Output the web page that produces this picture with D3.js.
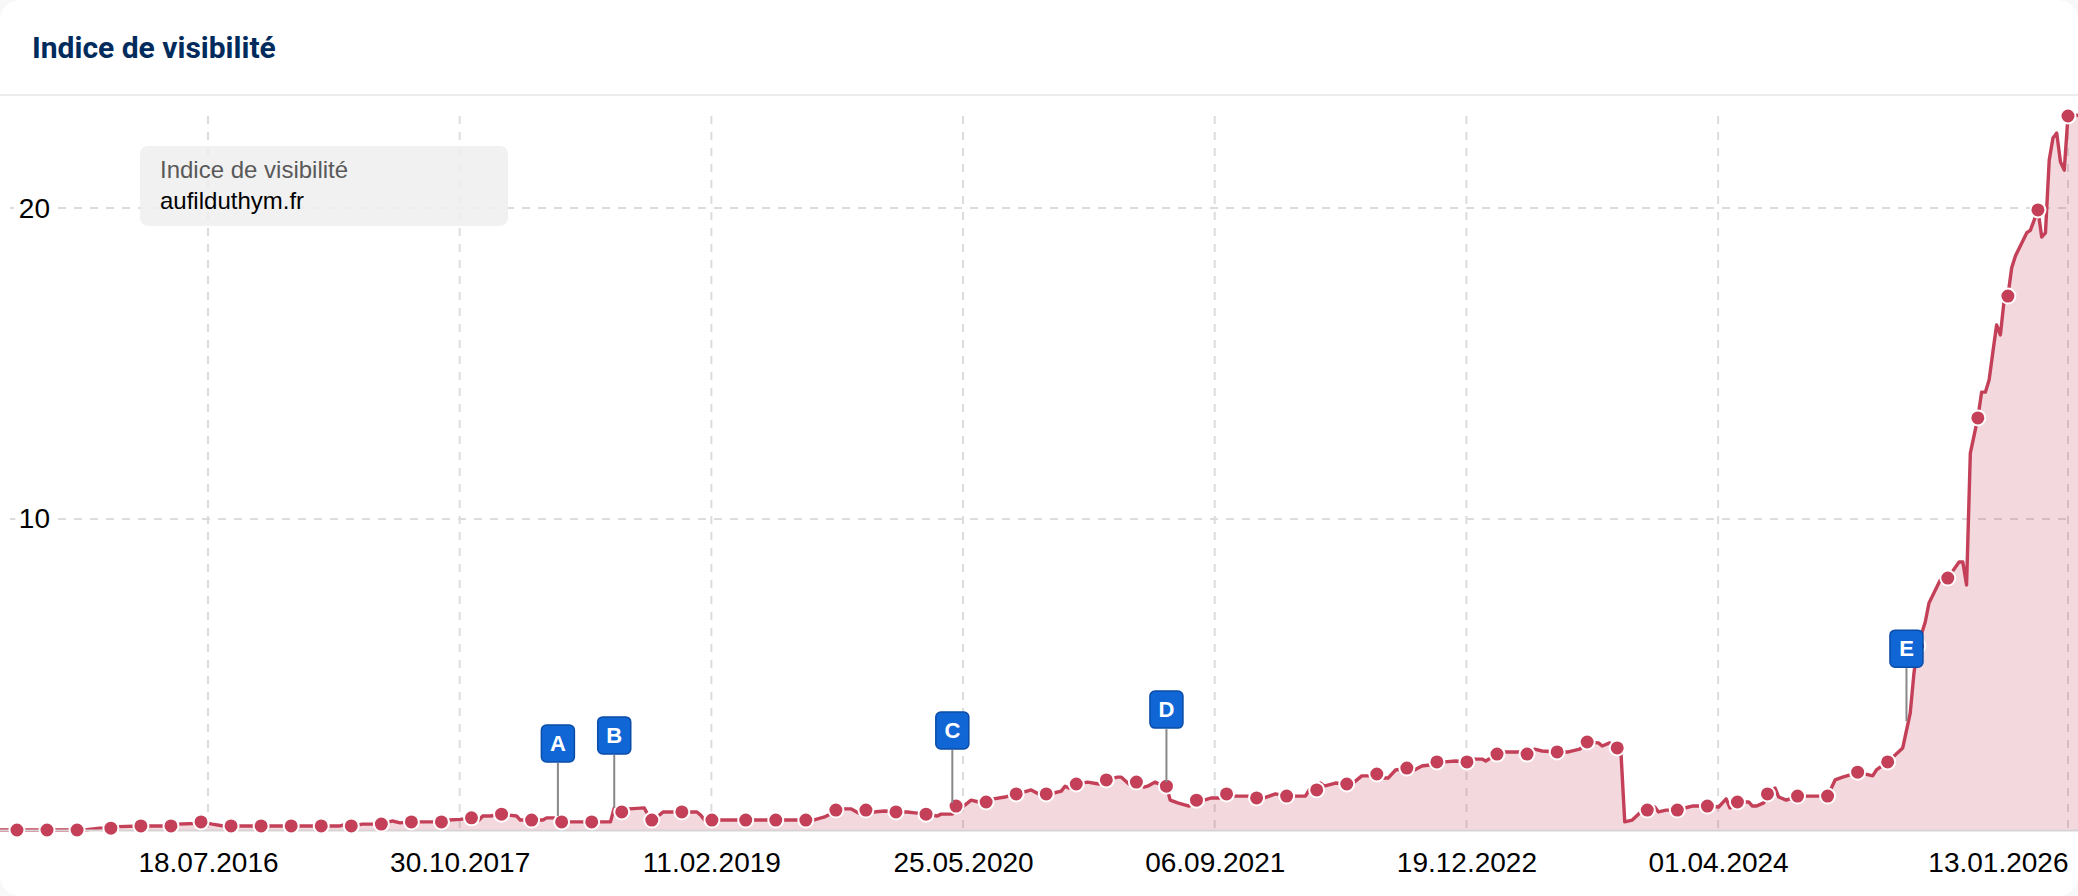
<!DOCTYPE html>
<html lang="fr">
<head>
<meta charset="utf-8">
<title>Indice de visibilité</title>
<script src="https://cdn.jsdelivr.net/npm/d3@7"></script>
<style>
  html, body { margin: 0; padding: 0; background: #f8f8f8; overflow: hidden; }
  #chart { width: 2078px; height: 896px; }
  svg { display: block; }
</style>
</head>
<body>
<div id="chart"></div>
<script>
// Weeks before the last tick (13.01.2026)
const weeksBefore = [
  552, 546, 538, 530, 528, 524, 521, 519, 513, 505, 503, 499, 497, 494, 491, 489,
  481, 473, 465, 460, 459, 457, 454, 451, 449, 446, 444, 441, 433, 431, 428, 425,
  423, 422, 420, 417, 415, 413, 412, 409, 406, 405, 403, 401, 393, 388, 387, 385,
  383, 379, 378, 377, 375, 374, 371, 369, 365, 364, 363, 361, 352, 344, 336, 334,
  331, 330, 328, 326, 324, 322, 320, 318, 315, 312, 309, 307, 304, 301, 300, 297,
  296, 294, 292, 290, 288, 286, 283, 280, 278, 276, 274, 272, 270, 268, 267, 266,
  264, 261, 258, 256, 253, 252, 250, 248, 246, 245, 243, 242, 240, 239, 237, 234,
  232, 230, 228, 226, 224, 222, 218, 216, 214, 211, 208, 203, 202, 200, 199, 198,
  195, 192, 190, 188, 186, 184, 182, 181, 179, 176, 174, 172, 170, 168, 166, 163,
  160, 158, 156, 155, 152, 150, 146, 144, 142, 140, 136, 133, 130, 128, 125, 124,
  122, 120, 119, 118, 116, 114, 112, 110, 109, 107, 104, 101, 100, 96, 93, 91,
  90, 88, 85, 84, 83, 81, 80, 78, 77, 75, 72, 69, 67, 64, 62, 60,
  58, 56, 52, 51, 48, 44, 42, 41, 40, 38, 37, 34, 32, 29, 28, 27,
  26, 24, 23, 22, 21, 20, 19, 18, 17, 16, 15, 14, 11, 10, 8, 7,
  6, 5, 4, 3, 2, 1, 0, -3
];

const visibility = [
  0, 0, 0, 0, 0, 0.06, 0.06, 0.11, 0.13, 0.13, 0.19, 0.21, 0.26, 0.19, 0.13, 0.13,
  0.13, 0.13, 0.13, 0.13, 0.16, 0.13, 0.19, 0.19, 0.19, 0.29, 0.23, 0.26, 0.26, 0.32, 0.34, 0.39,
  0.32, 0.45, 0.45, 0.51, 0.48, 0.45, 0.32, 0.32, 0.32, 0.39, 0.39, 0.26, 0.26, 0.26, 0.71, 0.58,
  0.68, 0.71, 0.48, 0.32, 0.48, 0.58, 0.58, 0.58, 0.58, 0.48, 0.32, 0.32, 0.32, 0.32, 0.32, 0.32,
  0.42, 0.48, 0.64, 0.68, 0.68, 0.55, 0.64, 0.58, 0.61, 0.58, 0.58, 0.55, 0.51, 0.45, 0.51, 0.51,
  0.77, 0.77, 0.96, 0.90, 0.90, 1.00, 1.06, 1.16, 1.22, 1.29, 1.16, 1.16, 1.19, 1.25, 1.41, 1.35,
  1.48, 1.54, 1.48, 1.61, 1.70, 1.70, 1.48, 1.54, 1.38, 1.41, 1.54, 1.48, 1.41, 0.96, 0.87, 0.77,
  0.96, 0.96, 1.03, 1.03, 1.16, 1.09, 1.09, 1.03, 1.03, 1.16, 1.09, 1.09, 1.29, 1.29, 1.51, 1.41,
  1.51, 1.48, 1.54, 1.74, 1.74, 1.80, 1.67, 1.67, 1.93, 1.99, 1.93, 2.06, 2.09, 2.19, 2.19, 2.22,
  2.19, 2.28, 2.28, 2.22, 2.44, 2.51, 2.51, 2.44, 2.60, 2.54, 2.51, 2.51, 2.60, 2.83, 2.80, 2.70,
  2.80, 2.64, 2.48, 0.26, 0.32, 0.55, 0.64, 0.74, 0.58, 0.64, 0.64, 0.74, 0.77, 0.77, 0.74, 1.00,
  0.71, 0.90, 0.90, 0.77, 0.77, 0.87, 1.16, 1.35, 1.06, 0.96, 1.09, 1.09, 1.09, 1.09, 1.61, 1.70,
  1.77, 1.86, 1.74, 1.93, 2.19, 2.64, 3.76, 5.05, 5.92, 6.69, 7.30, 8.04, 8.10, 8.62, 8.62, 7.88,
  12.12, 13.25, 14.08, 14.08, 14.47, 15.37, 16.24, 15.92, 17.04, 17.17, 18.07, 18.46, 19.20, 19.29, 19.94, 19.07,
  19.20, 21.54, 22.25, 22.41, 21.48, 21.22, 22.96, 22.99
];

// Dots sit every eight weeks, with two nine week steps
const markerWeeks = [
  546, 538, 530, 521, 513, 505, 497, 489, 481, 473, 465, 457, 449, 441, 433, 425, 417, 409, 401,
  393, 385, 377, 369, 361, 352, 344, 336, 328, 320, 312, 304, 296, 288, 280, 272, 264, 256, 248,
  240, 232, 224, 216, 208, 200, 192, 184, 176, 168, 160, 152, 144, 136, 128, 120, 112, 104, 96,
  88, 80, 72, 64, 56, 48, 40, 32, 24, 16, 8, 0
];

const xTickLabels = ['18.07.2016', '30.10.2017', '11.02.2019', '25.05.2020', '06.09.2021', '19.12.2022', '01.04.2024', '13.01.2026'];
const yTicks = [10, 20];

const flagLabels = ['A', 'B', 'C', 'D', 'E'];
const flagWeeks = [402, 387, 297, 240, 43];
const flagValues = [0.45, 0.71, 0.87, 1.54, 3.50];

const legendTitle = 'Indice de visibilité';
const legendDomain = 'aufilduthym.fr';

const width = 2078;
const height = 896;
const marginTop = 116;
const baseline = 830;
const stemLength = 53;

const parseTick = d3.timeParse('%d.%m.%Y');
const formatTick = d3.timeFormat('%d.%m.%Y');
const tickDates = xTickLabels.map(parseTick);
const lastDate = tickDates[tickDates.length - 1];
const weekToDate = w => d3.timeDay.offset(lastDate, -7 * w);

const x = d3.scaleTime()
  .domain([tickDates[0], lastDate])
  .range([208, 2068]);

const y = d3.scaleLinear()
  .domain([0, 22.96])
  .range([baseline, marginTop]);

const svg = d3.select('#chart')
  .append('svg')
  .attr('width', width)
  .attr('height', height)
  .attr('viewBox', [0, 0, width, height]);

// Card and header
svg.append('rect')
  .attr('width', width)
  .attr('height', height)
  .attr('rx', 20)
  .attr('fill', '#fff');

svg.append('text')
  .attr('x', 32)
  .attr('y', 58)
  .style('font-family', 'Roboto')
  .style('font-weight', 700)
  .style('font-size', '30px')
  .style('fill', '#002b5c')
  .text(legendTitle);

svg.append('line')
  .attr('x1', 0)
  .attr('x2', width)
  .attr('y1', 95)
  .attr('y2', 95)
  .attr('stroke', '#ececec')
  .attr('stroke-width', 2);

// Grid lines
const gridDash = '8 8';

svg.append('g')
  .selectAll('line')
  .data(tickDates)
  .join('line')
  .attr('x1', d => x(d))
  .attr('x2', d => x(d))
  .attr('y1', marginTop)
  .attr('y2', baseline)
  .attr('stroke', '#dcdcdc')
  .attr('stroke-width', 2)
  .attr('stroke-dasharray', gridDash);

svg.append('g')
  .selectAll('line')
  .data(yTicks)
  .join('line')
  .attr('x1', 10)
  .attr('x2', 2068)
  .attr('y1', d => y(d))
  .attr('y2', d => y(d))
  .attr('stroke', '#dcdcdc')
  .attr('stroke-width', 2)
  .attr('stroke-dasharray', gridDash);

// Series
const series = weeksBefore.map((w, i) => ({ date: weekToDate(w), value: visibility[i] }));

svg.append('path')
  .datum(series)
  .attr('fill', 'rgba(196, 63, 88, 0.2)')
  .attr('d', d3.area().x(d => x(d.date)).y0(baseline).y1(d => y(d.value)));

svg.append('path')
  .datum(series)
  .attr('fill', 'none')
  .attr('stroke', '#c43f58')
  .attr('stroke-width', 3.4)
  .attr('stroke-linejoin', 'round')
  .attr('d', d3.line().x(d => x(d.date)).y(d => y(d.value)));

// X axis
const xAxis = svg.append('g')
  .attr('transform', `translate(0,${baseline})`)
  .call(d3.axisBottom(x).tickValues(tickDates).tickFormat(formatTick).tickSize(0).tickPadding(22));

xAxis.select('.domain')
  .attr('stroke', '#d8d4d6')
  .attr('stroke-width', 2)
  .attr('d', `M0,0.5H${width}`);

xAxis.selectAll('text')
  .attr('text-anchor', (d, i) => i === tickDates.length - 1 ? 'end' : 'middle')
  .style('font-family', '"Liberation Sans"')
  .style('font-size', '28px')
  .style('fill', '#000');

// Y axis labels, with a white halo that cuts the grid line
const yAxis = svg.append('g')
  .attr('transform', 'translate(50,0)')
  .call(d3.axisLeft(y).tickValues(yTicks).tickSize(0).tickPadding(0));

yAxis.select('.domain').remove();

yAxis.selectAll('text')
  .attr('dy', '0.32em')
  .attr('paint-order', 'stroke')
  .attr('stroke', '#fff')
  .attr('stroke-width', 12)
  .style('font-family', '"Liberation Sans"')
  .style('font-size', '28px')
  .style('fill', '#000');

// Dots
const markers = markerWeeks.map(w => series[weeksBefore.indexOf(w)]);

svg.append('g')
  .selectAll('circle')
  .data(markers)
  .join('circle')
  .attr('cx', d => x(d.date))
  .attr('cy', d => y(d.value))
  .attr('r', 7.5)
  .attr('fill', '#c43f58')
  .attr('stroke', '#fff')
  .attr('stroke-width', 2);

// Legend box
const legend = svg.append('g')
  .attr('transform', 'translate(140,146)');

legend.append('rect')
  .attr('width', 368)
  .attr('height', 80)
  .attr('rx', 8)
  .attr('fill', 'rgba(238, 238, 238, 0.85)');

legend.append('text')
  .attr('x', 20)
  .attr('y', 32)
  .style('font-family', '"Liberation Sans"')
  .style('font-size', '24px')
  .style('fill', '#595959')
  .text(legendTitle);

legend.append('text')
  .attr('x', 20)
  .attr('y', 63)
  .style('font-family', '"Liberation Sans"')
  .style('font-size', '24px')
  .style('fill', '#000')
  .text(legendDomain);

// Event flags
const flags = svg.append('g')
  .selectAll('g')
  .data(flagLabels)
  .join('g')
  .attr('transform', (d, i) => `translate(${x(weekToDate(flagWeeks[i]))},${y(flagValues[i])})`);

flags.append('line')
  .attr('y1', 0)
  .attr('y2', -stemLength)
  .attr('stroke', '#888')
  .attr('stroke-width', 2);

flags.append('rect')
  .attr('x', -16.5)
  .attr('y', -stemLength - 38)
  .attr('width', 33)
  .attr('height', 37)
  .attr('rx', 5)
  .attr('fill', '#1166d6')
  .attr('stroke', '#0a4ca6')
  .attr('stroke-width', 1.5);

flags.append('text')
  .attr('text-anchor', 'middle')
  .attr('y', -stemLength - 12)
  .style('font-family', '"Liberation Sans"')
  .style('font-weight', 700)
  .style('font-size', '22px')
  .style('fill', '#fff')
  .text(d => d);
</script>
</body>
</html>
